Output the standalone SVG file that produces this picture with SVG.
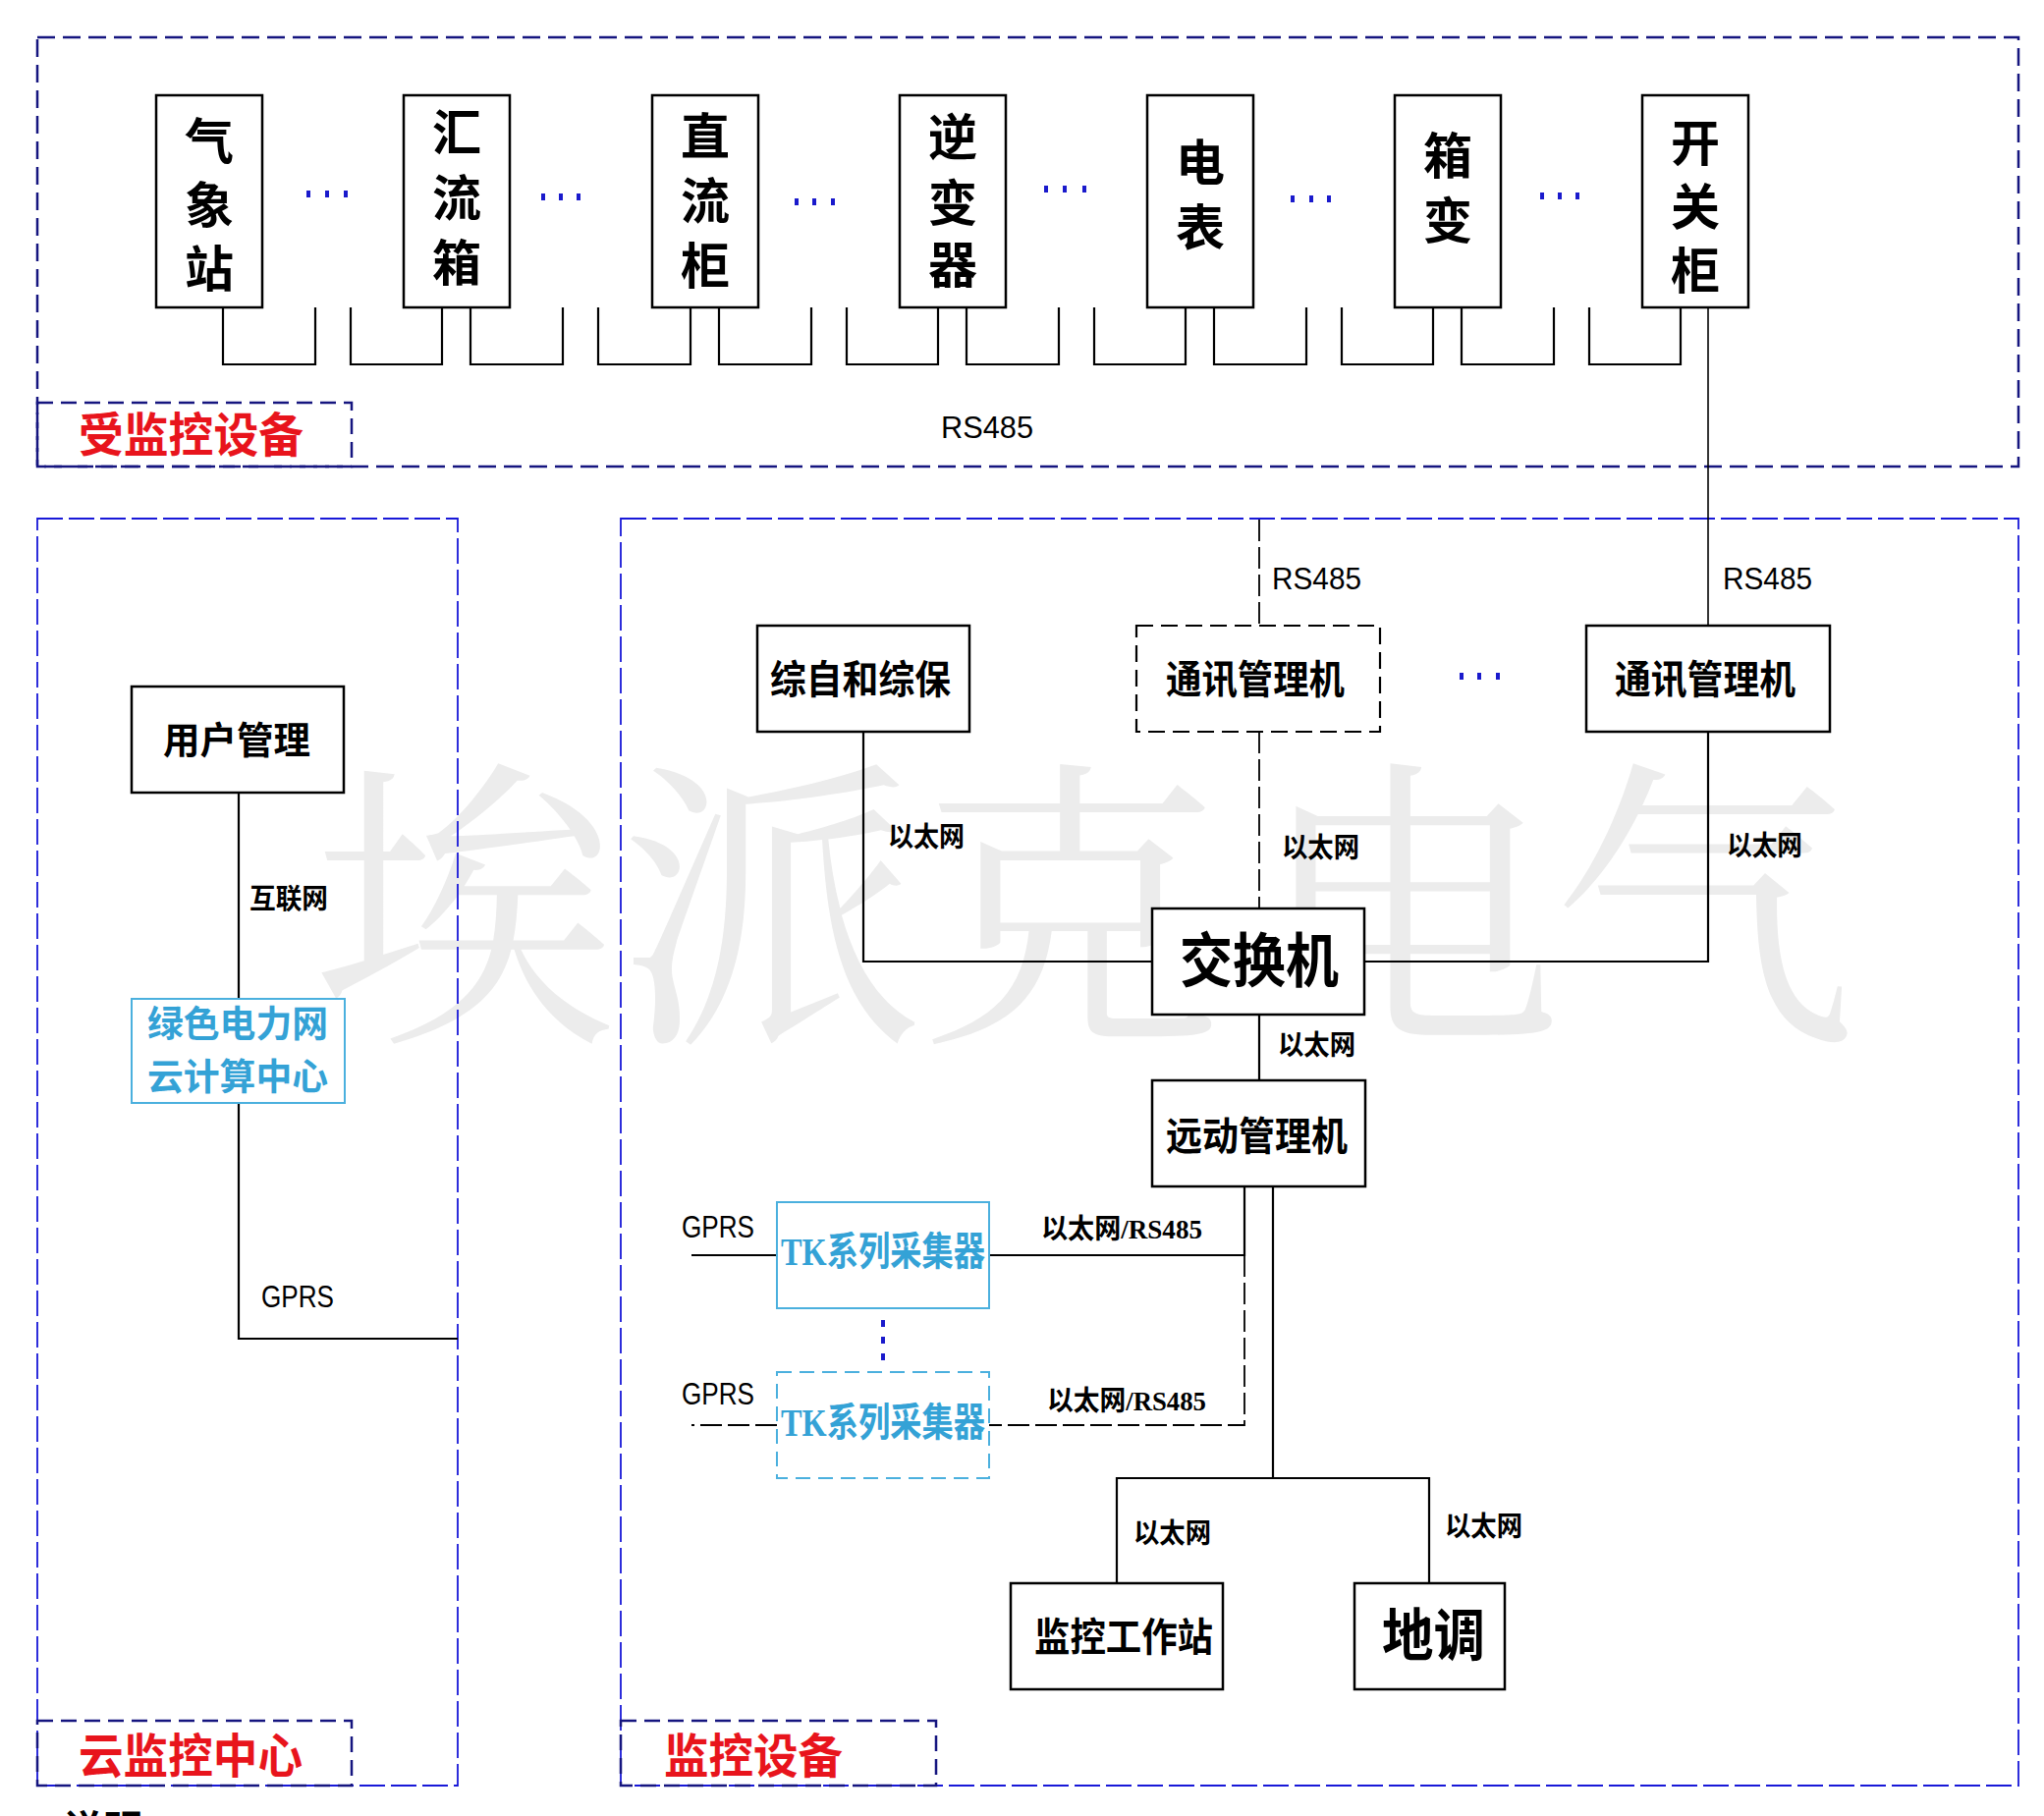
<svg xmlns="http://www.w3.org/2000/svg" width="2081" height="1849" viewBox="0 0 2081 1849">
<style>
.bg{fill:#ffffff}
.wm{font-family:"Noto Serif CJK SC","Noto Sans CJK SC",serif;font-size:310px;fill:#ececec}
.frameTop{fill:none;stroke:#15157f;stroke-width:2.5;stroke-dasharray:18 8}
.frameLow{fill:none;stroke:#1818d8;stroke-width:1.8;stroke-dasharray:26 6}
.frameLbl{fill:none;stroke:#15157f;stroke-width:2.5;stroke-dasharray:16 8}
.box{fill:#ffffff;stroke:#000;stroke-width:2.5}
.boxd{fill:#ffffff;stroke:#000;stroke-width:2.2;stroke-dasharray:17 8}
.cbox{fill:#ffffff;stroke:#4bb0de;stroke-width:2}
.cboxd{fill:#ffffff;stroke:#4bb0de;stroke-width:2;stroke-dasharray:15 8}
.ln{fill:none;stroke:#000;stroke-width:2.2}
.lnt{fill:none;stroke:#000;stroke-width:1.6}
.lnd{fill:none;stroke:#000;stroke-width:1.8;stroke-dasharray:22 6}
.cn{font-family:"Noto Sans CJK SC",sans-serif;font-weight:bold;fill:#000}
.dev{font-family:"Noto Sans CJK SC",sans-serif;font-weight:bold;font-size:50px;fill:#000;text-anchor:middle}
.red{font-family:"Noto Sans CJK SC",sans-serif;font-weight:bold;font-size:48px;fill:#e8141c}
.cyan{font-family:"Noto Sans CJK SC",sans-serif;font-weight:bold;fill:#34a2d6}
.lat{font-family:"Liberation Sans",sans-serif;font-size:32px;fill:#000}
.eth{font-family:"Noto Sans CJK SC",sans-serif;font-weight:bold;font-size:28px;fill:#000}
.ser{font-family:"Liberation Serif",serif;font-weight:bold}
.dot{fill:#1a1acc}
</style>
<rect class="bg" x="0" y="0" width="2081" height="1849"/>

<!-- watermark -->
<text class="wm" x="318 630 935 1280 1580" y="1038">埃派克电气</text>

<!-- frames -->
<g id="frame-monitored">
<rect class="frameTop" x="38" y="38" width="2017" height="437"/>
<rect class="frameLbl" x="38" y="410" width="320" height="65"/>
<text class="red" x="80" y="460" textLength="229" lengthAdjust="spacingAndGlyphs">受监控设备</text>
</g>
<g id="frame-cloud">
<rect class="frameLow" x="38" y="528" width="428" height="1290"/>
<rect class="frameLbl" x="38" y="1752" width="320" height="66"/>
<text class="red" x="80" y="1805" textLength="228" lengthAdjust="spacingAndGlyphs">云监控中心</text>
</g>
<g id="frame-monitor">
<rect class="frameLow" x="632" y="528" width="1423" height="1290"/>
<rect class="frameLbl" x="632" y="1752" width="321" height="66"/>
<text class="red" x="676" y="1805" textLength="182" lengthAdjust="spacingAndGlyphs">监控设备</text>
</g>

<!-- connectors -->
<g id="connectors">
<!-- RS485 bus under devices -->
<path class="ln" d="M227,313 V371 H321 V313 M357,313 V371 H450 V313 M479,313 V371 H573 V313 M609,313 V371 H703 V313 M732,313 V371 H826 V313 M862,313 V371 H955 V313 M984,313 V371 H1078 V313 M1114,313 V371 H1207 V313 M1236,313 V371 H1330 V313 M1366,313 V371 H1459 V313 M1488,313 V371 H1582 V313 M1618,313 V371 H1711 V313"/>
<path class="lnt" d="M1739,313 V637"/>
<!-- dashed RS485 to middle comm manager -->
<path class="lnd" d="M1282,529 V637 M1282,745 V925"/>
<!-- 综自和综保 to switch -->
<path class="ln" d="M879,745 V979 H1173"/>
<!-- switch to right comm manager -->
<path class="ln" d="M1389,979 H1739 V745"/>
<!-- switch to telecontrol -->
<path class="ln" d="M1282,1033 V1100"/>
<!-- telecontrol to collectors -->
<path class="ln" d="M1267,1208 V1278 H1007"/>
<path class="ln" d="M704,1278 H791"/>
<path class="lnd" d="M1267,1278 V1451 H1007 M791,1451 H704"/>
<!-- telecontrol to workstation / dispatch -->
<path class="ln" d="M1296,1208 V1505 M1137,1612 V1505 H1455 V1612"/>
<!-- cloud -->
<path class="ln" d="M243,807 V1017 M243,1123 V1363 H466"/>
</g>

<!-- ellipsis dots -->
<g id="dots">
<rect class="dot" x="312" y="194" width="4" height="7"/><rect class="dot" x="331" y="194" width="4" height="7"/><rect class="dot" x="350" y="194" width="4" height="7"/>
<rect class="dot" x="551" y="197" width="4" height="7"/><rect class="dot" x="569" y="197" width="4" height="7"/><rect class="dot" x="587" y="197" width="4" height="7"/>
<rect class="dot" x="809" y="202" width="4" height="7"/><rect class="dot" x="827" y="202" width="4" height="7"/><rect class="dot" x="846" y="202" width="4" height="7"/>
<rect class="dot" x="1063" y="189" width="4" height="7"/><rect class="dot" x="1082" y="189" width="4" height="7"/><rect class="dot" x="1102" y="189" width="4" height="7"/>
<rect class="dot" x="1314" y="199" width="4" height="7"/><rect class="dot" x="1333" y="199" width="4" height="7"/><rect class="dot" x="1351" y="199" width="4" height="7"/>
<rect class="dot" x="1568" y="196" width="4" height="7"/><rect class="dot" x="1586" y="196" width="4" height="7"/><rect class="dot" x="1604" y="196" width="4" height="7"/>
<rect class="dot" x="1486" y="685" width="4" height="7"/><rect class="dot" x="1504" y="685" width="4" height="7"/><rect class="dot" x="1523" y="685" width="4" height="7"/>
<rect class="dot" x="897" y="1344" width="4" height="7"/><rect class="dot" x="897" y="1361" width="4" height="7"/><rect class="dot" x="897" y="1378" width="4" height="7"/>
</g>

<!-- devices -->
<g id="n-weather"><rect class="box" x="159" y="97" width="108" height="216"/><text class="dev" x="213" y="162">气</text><text class="dev" x="213" y="227">象</text><text class="dev" x="213" y="292">站</text></g>
<g id="n-combiner"><rect class="box" x="411" y="97" width="108" height="216"/><text class="dev" x="465" y="153">汇</text><text class="dev" x="465" y="220">流</text><text class="dev" x="465" y="286">箱</text></g>
<g id="n-dccab"><rect class="box" x="664" y="97" width="108" height="216"/><text class="dev" x="718" y="157">直</text><text class="dev" x="718" y="223">流</text><text class="dev" x="718" y="289">柜</text></g>
<g id="n-inverter"><rect class="box" x="916" y="97" width="108" height="216"/><text class="dev" x="970" y="158">逆</text><text class="dev" x="970" y="225">变</text><text class="dev" x="970" y="288">器</text></g>
<g id="n-meter"><rect class="box" x="1168" y="97" width="108" height="216"/><text class="dev" x="1222" y="184">电</text><text class="dev" x="1222" y="250">表</text></g>
<g id="n-boxtrans"><rect class="box" x="1420" y="97" width="108" height="216"/><text class="dev" x="1474" y="177">箱</text><text class="dev" x="1474" y="243">变</text></g>
<g id="n-switchgear"><rect class="box" x="1672" y="97" width="108" height="216"/><text class="dev" x="1726" y="164">开</text><text class="dev" x="1726" y="229">关</text><text class="dev" x="1726" y="294">柜</text></g>

<text class="lat" x="958" y="446" textLength="94" lengthAdjust="spacingAndGlyphs">RS485</text>

<!-- cloud center -->
<g id="n-user"><rect class="box" x="134" y="699" width="216" height="108"/><text class="cn" font-size="38" x="166" y="767" textLength="150" lengthAdjust="spacingAndGlyphs">用户管理</text></g>
<g id="n-cloud"><rect class="cbox" x="134" y="1017" width="217" height="106"/>
<text class="cyan" font-size="37" x="150" y="1056" textLength="184" lengthAdjust="spacingAndGlyphs">绿色电力网</text>
<text class="cyan" font-size="37" x="150" y="1110" textLength="184" lengthAdjust="spacingAndGlyphs">云计算中心</text></g>
<text class="eth" x="254" y="925" textLength="80" lengthAdjust="spacingAndGlyphs">互联网</text>
<text class="lat" x="266" y="1331" textLength="74" lengthAdjust="spacingAndGlyphs">GPRS</text>

<!-- monitoring equipment -->
<g id="n-zizong"><rect class="box" x="771" y="637" width="216" height="108"/><text class="cn" font-size="40" x="784" y="706" textLength="184" lengthAdjust="spacingAndGlyphs">综自和综保</text></g>
<g id="n-comm1"><rect class="boxd" x="1157" y="637" width="248" height="108"/><text class="cn" font-size="40" x="1187" y="706" textLength="182" lengthAdjust="spacingAndGlyphs">通讯管理机</text></g>
<g id="n-comm2"><rect class="box" x="1615" y="637" width="248" height="108"/><text class="cn" font-size="40" x="1644" y="706" textLength="184" lengthAdjust="spacingAndGlyphs">通讯管理机</text></g>
<g id="n-switch"><rect class="box" x="1173" y="925" width="216" height="108"/><text class="cn" font-size="60" x="1201" y="1000" textLength="162" lengthAdjust="spacingAndGlyphs">交换机</text></g>
<g id="n-tele"><rect class="box" x="1173" y="1100" width="217" height="108"/><text class="cn" font-size="40" x="1187" y="1171" textLength="185" lengthAdjust="spacingAndGlyphs">远动管理机</text></g>
<g id="n-tk1"><rect class="cbox" x="791" y="1224" width="216" height="108"/><text class="cyan" font-size="40" x="795" y="1288" textLength="208" lengthAdjust="spacingAndGlyphs"><tspan class="ser">TK</tspan>系列采集器</text></g>
<g id="n-tk2"><rect class="cboxd" x="791" y="1397" width="216" height="108"/><text class="cyan" font-size="40" x="795" y="1462" textLength="208" lengthAdjust="spacingAndGlyphs"><tspan class="ser">TK</tspan>系列采集器</text></g>
<g id="n-ws"><rect class="box" x="1029" y="1612" width="216" height="108"/><text class="cn" font-size="40" x="1053" y="1681" textLength="182" lengthAdjust="spacingAndGlyphs">监控工作站</text></g>
<g id="n-dispatch"><rect class="box" x="1379" y="1612" width="153" height="108"/><text class="cn" font-size="58" x="1407" y="1686" textLength="105" lengthAdjust="spacingAndGlyphs">地调</text></g>

<!-- connector labels -->
<text class="lat" x="1295" y="600" textLength="91" lengthAdjust="spacingAndGlyphs">RS485</text>
<text class="lat" x="1754" y="600" textLength="91" lengthAdjust="spacingAndGlyphs">RS485</text>
<text class="eth" x="904" y="862" textLength="78" lengthAdjust="spacingAndGlyphs">以太网</text>
<text class="eth" x="1305" y="873" textLength="79" lengthAdjust="spacingAndGlyphs">以太网</text>
<text class="eth" x="1758" y="871" textLength="77" lengthAdjust="spacingAndGlyphs">以太网</text>
<text class="eth" x="1301" y="1074" textLength="79" lengthAdjust="spacingAndGlyphs">以太网</text>
<text class="eth" x="1154" y="1571" textLength="79" lengthAdjust="spacingAndGlyphs">以太网</text>
<text class="eth" x="1471" y="1564" textLength="79" lengthAdjust="spacingAndGlyphs">以太网</text>
<text class="eth" x="1060" y="1261" textLength="164" lengthAdjust="spacingAndGlyphs">以太网<tspan class="ser">/RS485</tspan></text>
<text class="eth" x="1066" y="1436" textLength="162" lengthAdjust="spacingAndGlyphs">以太网<tspan class="ser">/RS485</tspan></text>
<text class="lat" x="694" y="1260" textLength="74" lengthAdjust="spacingAndGlyphs">GPRS</text>
<text class="lat" x="694" y="1430" textLength="74" lengthAdjust="spacingAndGlyphs">GPRS</text>

<text class="cn" font-size="40" x="65" y="1877">说明</text>
</svg>
